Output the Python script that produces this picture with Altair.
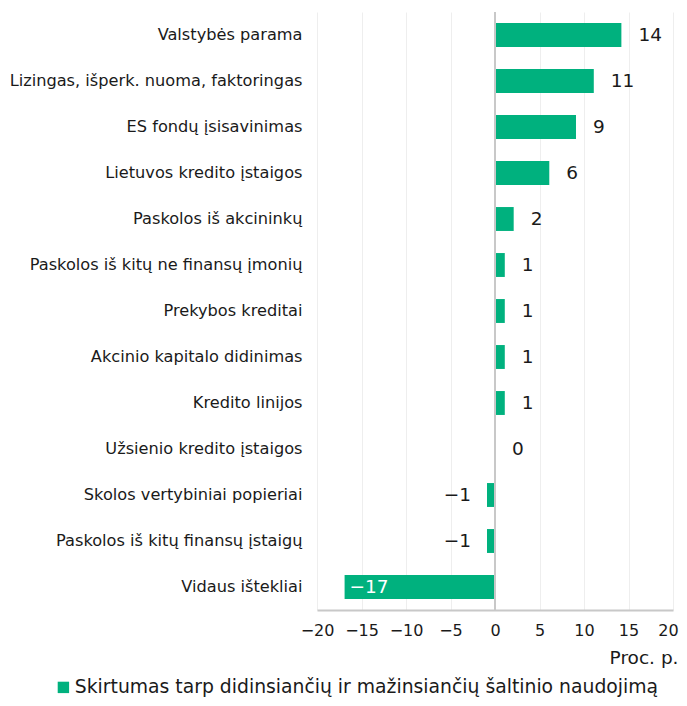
import altair as alt
import pandas as pd

categories = [
    "Valstybės parama",
    "Lizingas, išperk. nuoma, faktoringas",
    "ES fondų įsisavinimas",
    "Lietuvos kredito įstaigos",
    "Paskolos iš akcininkų",
    "Paskolos iš kitų ne finansų įmonių",
    "Prekybos kreditai",
    "Akcinio kapitalo didinimas",
    "Kredito linijos",
    "Užsienio kredito įstaigos",
    "Skolos vertybiniai popieriai",
    "Paskolos iš kitų finansų įstaigų",
    "Vidaus ištekliai",
]
values = [14.2, 11.1, 9.1, 6.1, 2.1, 1.1, 1.1, 1.1, 1.1, 0.0, -0.9, -0.9, -16.9]
tick_values = [-20, -15, -10, -5, 0, 5, 10, 15, 20]
series_name = "Skirtumas tarp didinsiančių ir mažinsiančių šaltinio naudojimą"

df = pd.DataFrame({"cat": categories, "val": values, "series": series_name})

FONT = "DejaVu Sans"
GREEN = "#00B17E"
TXT = "#1a1a1a"

y_enc = alt.Y("cat:N", sort=categories, title=None,
              scale=alt.Scale(paddingInner=0.48, paddingOuter=0.24),
              axis=alt.Axis(labelFontSize=16.2, labelColor=TXT, labelFont=FONT,
                            ticks=False, domain=False, labelPadding=15, labelLimit=400))
x_enc = alt.X("val:Q", title="Proc. p.",
              scale=alt.Scale(domain=[-20, 20], nice=False),
              axis=alt.Axis(values=tick_values, labelOverlap=False, labelFlush=False,
                            labelOffset=alt.condition("datum.value == 20", alt.value(-5), alt.value(0)),
                            labelFontSize=16, labelColor=TXT, labelFont=FONT,
                            ticks=False, labelPadding=12,
                            domainColor="#c8c8c8", domainWidth=2,
                            gridColor="#eeeeee", gridWidth=1,
                            titleFont=FONT, titleFontSize=18.5, titleFontWeight="normal",
                            titleColor=TXT, titleAnchor="end", titleAlign="right",
                            titleX=361, titleY=47, titleBaseline="middle"))

bars = alt.Chart(df).mark_bar(color=GREEN).encode(
    x=x_enc, y=y_enc,
    color=alt.Color("series:N", scale=alt.Scale(range=[GREEN]),
                    legend=alt.Legend(title=None, orient="none", legendX=-263, legendY=666,
                                      symbolType="square", symbolSize=130, labelOffset=2,
                                      labelFontSize=18.8, labelFont=FONT, labelColor=TXT,
                                      labelLimit=700, symbolStrokeWidth=0)),
)

zero = alt.Chart(df).mark_rule(color="#c8c8c8", strokeWidth=2).encode(
    x=alt.datum(0)
)

base_text = alt.Chart(df).encode(
    x=alt.X("val:Q"), y=alt.Y("cat:N", sort=categories),
    text=alt.Text("val:Q", format=".0f"))

pos_text = base_text.transform_filter("datum.val >= 0").mark_text(
    align="left", dx=17, fontSize=18.5, font=FONT, color=TXT)
neg_text = base_text.transform_filter("datum.val < 0 && datum.val > -5").mark_text(
    align="right", dx=-16, fontSize=18.5, font=FONT, color=TXT)
in_text = base_text.transform_filter("datum.val <= -5").mark_text(
    align="left", dx=5, fontSize=18.5, font=FONT, color="white")

chart = alt.layer(bars, zero, pos_text, neg_text, in_text).properties(
    width=356, height=598,
    autosize=alt.AutoSizeParams(type="none"),
    padding={"left": 309, "top": 4, "right": 6, "bottom": 88},
).configure_view(stroke=None)

chart.save("out.html", embed_options={"renderer": "svg", "actions": False})
